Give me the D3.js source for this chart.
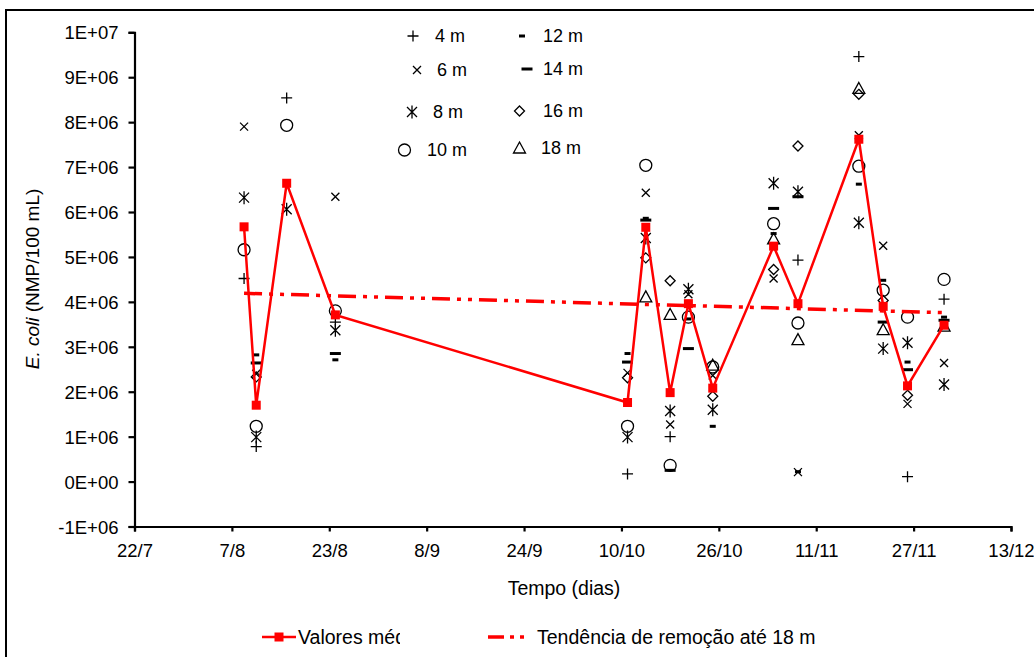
<!DOCTYPE html>
<html lang="pt">
<head>
    <meta charset="UTF-8">
    <title>E. coli</title>
    <script src="https://d3js.org/d3.v7.min.js"></script>
    <style>
        body { margin: 0; background: #fff; }
        text { font-family: "Liberation Sans", Arial, sans-serif; fill: #000; }
    </style>
</head>
<body>
    <script>
        // sampling dates (day/month)
        let dates = ["2005-08-09", "2005-08-11", "2005-08-16", "2005-08-24", "2005-10-11",
                     "2005-10-14", "2005-10-18", "2005-10-21", "2005-10-25", "2005-11-04",
                     "2005-11-08", "2005-11-18", "2005-11-22", "2005-11-26", "2005-12-02"];

        // E. coli per depth, NMP/100 mL (null = not visible)
        let m4  = [4.52e6, 0.78e6, 8.54e6, 3.55e6, 0.17e6, null, 1.00e6, null, null, null, 4.93e6, 9.46e6, null, 0.11e6, 4.06e6];
        let m6  = [7.90e6, 2.40e6, null, 6.34e6, 2.42e6, 6.43e6, 1.27e6, 4.17e6, 2.36e6, 4.52e6, 0.21e6, 7.71e6, 5.25e6, 1.73e6, 2.64e6];
        let m8  = [6.32e6, 0.99e6, 6.06e6, 3.37e6, 0.99e6, 5.42e6, 1.57e6, 4.28e6, 1.60e6, 6.64e6, 6.45e6, 5.76e6, 2.96e6, 3.09e6, 2.16e6];
        let m10 = [5.16e6, 1.23e6, 7.93e6, 3.80e6, 1.23e6, 7.04e6, 0.36e6, 3.66e6, 2.55e6, 5.74e6, 3.53e6, 7.02e6, 4.26e6, 3.66e6, 4.50e6];
        let m12 = [null, 2.82e6, null, 2.71e6, 2.85e6, 5.86e6, null, 3.62e6, 1.23e6, 5.52e6, 0.22e6, 6.62e6, 4.48e6, 2.66e6, 3.66e6];
        let m14 = [null, 2.64e6, null, 2.85e6, 2.66e6, 5.82e6, 0.25e6, 2.96e6, null, 6.08e6, 6.34e6, null, 3.55e6, 2.49e6, 3.59e6];
        let m16 = [null, 2.33e6, null, null, 2.31e6, 4.98e6, 4.47e6, null, 1.90e6, 4.72e6, 7.47e6, 8.62e6, 4.03e6, 1.92e6, null];
        let m18 = [null, null, null, null, null, 4.11e6, 3.72e6, null, 2.59e6, 5.40e6, 3.16e6, 8.75e6, 3.38e6, null, 3.46e6];

        // mean values and removal trend (start / end)
        let means = [5.67e6, 1.70e6, 6.64e6, 3.71e6, 1.76e6, 5.66e6, 1.98e6, 3.96e6, 2.08e6, 5.24e6, 3.96e6, 7.62e6, 3.90e6, 2.13e6, 3.48e6];
        let trend = [4.19e6, 3.76e6];

        let depthNames = ["4 m", "6 m", "8 m", "10 m", "12 m", "14 m", "16 m", "18 m"];
        let yTicks = [-1e6, 0, 1e6, 2e6, 3e6, 4e6, 5e6, 6e6, 7e6, 8e6, 9e6, 1e7];
        let yTickLabels = ["-1E+06", "0E+00", "1E+06", "2E+06", "3E+06", "4E+06", "5E+06", "6E+06", "7E+06", "8E+06", "9E+06", "1E+07"];
        let xTickLabels = ["22/7", "7/8", "23/8", "8/9", "24/9", "10/10", "26/10", "11/11", "27/11", "13/12"];

        let width = 1034;
        let height = 657;
        let parse = d3.timeParse("%Y-%m-%d");
        let dayList = dates.map(parse);

        let xScale = d3.scaleTime()
            .domain([parse("2005-07-22"), parse("2005-12-13")])
            .range([134.5, 1011]);
        let yScale = d3.scaleLinear()
            .domain([-1e6, 1e7])
            .range([526.5, 32.3]);

        let svg = d3.select('body').append('svg')
            .attr('width', width)
            .attr('height', height);

        // outer frame
        svg.append('rect')
            .attr('x', 6).attr('y', 10)
            .attr('width', 1200).attr('height', 800)
            .style('fill', 'none').style('stroke', '#000').style('stroke-width', 2);

        // axes
        let xTickDates = xTickLabels.map((d, i) => d3.timeDay.offset(parse("2005-07-22"), i * 16));
        let xAxis = d3.axisBottom(xScale)
            .tickValues(xTickDates)
            .tickFormat((d, i) => xTickLabels[i])
            .tickSizeOuter(0).tickSize(5).tickPadding(12);
        let gx = svg.append('g').attr('transform', 'translate(0,' + yScale(-1e6) + ')').call(xAxis);

        let yAxis = d3.axisLeft(yScale)
            .tickValues(yTicks)
            .tickFormat((d, i) => yTickLabels[i])
            .tickSizeOuter(0).tickSize(6).tickPadding(10);
        let gy = svg.append('g').attr('transform', 'translate(' + xScale.range()[0] + ',0)').call(yAxis);

        [gx, gy].forEach(g => {
            g.select('.domain').style('stroke', '#000').style('stroke-width', 2.2);
            g.selectAll('.tick line').style('stroke', '#000').style('stroke-width', 2.2);
            g.selectAll('.tick text').style('font-size', '18.5px')
                .style('font-family', '"Liberation Sans", Arial, sans-serif').style('fill', '#000');
        });
        gy.selectAll('.tick text').attr('dy', '0.36em');

        svg.append('text')
            .attr('x', 564).attr('y', 595)
            .attr('text-anchor', 'middle')
            .style('font-size', '19.5px')
            .text('Tempo (dias)');

        let ylab = svg.append('text')
            .attr('transform', 'translate(39,279) rotate(-90)')
            .attr('text-anchor', 'middle')
            .style('font-size', '19px');
        ylab.append('tspan').style('font-style', 'italic').text('E. coli');
        ylab.append('tspan').text(' (NMP/100 mL)');

        // marker shapes for each depth
        let shapes = [
            {d: 'M-5.5,0H5.5M0,-5.5V5.5', w: 1.3},
            {d: 'M-4,-4L4,4M-4,4L4,-4', w: 1.3},
            {d: 'M-5,-5L5,5M-5,5L5,-5M0,-6.5V6.5', w: 1.3},
            {d: 'M6,0A6,6 0 1,1 -6,0A6,6 0 1,1 6,0Z', w: 1.3},
            {d: 'M-3,0H3', w: 3},
            {d: 'M-5.5,0H5.5', w: 3},
            {d: 'M0,-5L5,0L0,5L-5,0Z', w: 1.3},
            {d: 'M0,-6L6,5H-6Z', w: 1.3}
        ];
        let depthSeries = [m4, m6, m8, m10, m12, m14, m16, m18];

        depthSeries.forEach((vals, k) => {
            let pts = vals.map((v, i) => ({date: dayList[i], v: v})).filter(p => p.v !== null);
            svg.append('g').selectAll('path').data(pts).enter().append('path')
                .attr('transform', p => 'translate(' + xScale(p.date) + ',' + yScale(p.v) + ')')
                .attr('d', shapes[k].d)
                .style('fill', 'none')
                .style('stroke', '#000')
                .style('stroke-width', shapes[k].w);
        });

        // trend line
        let trendDash = '18,7,4,7,4,7';
        svg.append('line')
            .attr('x1', xScale(dayList[0])).attr('y1', yScale(trend[0]))
            .attr('x2', xScale(dayList[dayList.length - 1])).attr('y2', yScale(trend[1]))
            .style('stroke', '#f00').style('stroke-width', 3.5)
            .style('stroke-dasharray', trendDash);

        // mean line
        let line = d3.line().x((d, i) => xScale(dayList[i])).y(d => yScale(d));
        svg.append('path').datum(means)
            .attr('d', line)
            .style('fill', 'none').style('stroke', '#f00').style('stroke-width', 2.5);
        svg.selectAll('rect.mean').data(means).enter().append('rect')
            .attr('class', 'mean')
            .attr('x', (d, i) => xScale(dayList[i]) - 4.5)
            .attr('y', d => yScale(d) - 4.5)
            .attr('width', 9).attr('height', 9)
            .style('fill', '#f00');

        // depth legend
        let legPos = [
            [413, 36, 435], [417, 70, 437], [412, 112, 433], [404.5, 150, 427],
            [522, 36, 543], [527, 69, 543], [519.5, 111, 543], [519.5, 148, 541]
        ];
        depthNames.forEach((name, k) => {
            let p = legPos[k];
            svg.append('path')
                .attr('transform', 'translate(' + p[0] + ',' + p[1] + ')')
                .attr('d', shapes[k].d)
                .style('fill', 'none').style('stroke', '#000').style('stroke-width', shapes[k].w);
            svg.append('text')
                .attr('x', p[2]).attr('y', p[1]).attr('dy', '0.36em')
                .style('font-size', '18px')
                .text(name);
        });

        // bottom legend
        svg.append('clipPath').attr('id', 'cut')
            .append('rect').attr('x', 0).attr('y', 600).attr('width', 400).attr('height', 60);
        svg.append('line')
            .attr('x1', 262).attr('x2', 296).attr('y1', 637).attr('y2', 637)
            .style('stroke', '#f00').style('stroke-width', 2.5);
        svg.append('rect')
            .attr('x', 274.5).attr('y', 632.5).attr('width', 9).attr('height', 9)
            .style('fill', '#f00');
        svg.append('text')
            .attr('x', 298).attr('y', 637).attr('dy', '0.36em')
            .attr('clip-path', 'url(#cut)')
            .style('font-size', '19.5px')
            .text('Valores médios');
        svg.append('line')
            .attr('x1', 488).attr('x2', 530).attr('y1', 637).attr('y2', 637)
            .style('stroke', '#f00').style('stroke-width', 3.5)
            .style('stroke-dasharray', '16,6,4,6,4,6');
        svg.append('text')
            .attr('x', 537).attr('y', 637).attr('dy', '0.36em')
            .style('font-size', '19.5px')
            .text('Tendência de remoção até 18 m');
    </script>
</body>
</html>
